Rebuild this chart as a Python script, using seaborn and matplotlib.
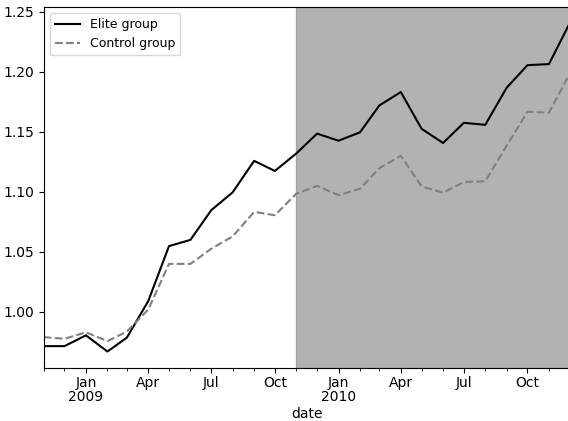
import matplotlib
matplotlib.use("Agg")
import matplotlib.pyplot as plt
import matplotlib.dates as mdates
import seaborn as sns
import pandas as pd

# monthly values, Nov 2008 .. Dec 2010
months = pd.date_range("2008-11-01", "2010-12-01", freq="MS")
elite = [0.9715, 0.9715, 0.9805, 0.967, 0.9785, 1.009, 1.0548, 1.060, 1.0847,
         1.0996, 1.1258, 1.1174, 1.132, 1.1485, 1.1426, 1.1496, 1.172, 1.1831,
         1.1525, 1.1407, 1.1575, 1.1558, 1.1868, 1.2055, 1.2064, 1.2405]
control = [0.979, 0.9776, 0.983, 0.9757, 0.9835, 1.002, 1.040, 1.040, 1.0526,
           1.0629, 1.0833, 1.0805, 1.0985, 1.1049, 1.0973, 1.1025, 1.1197, 1.130,
           1.1045, 1.0993, 1.1082, 1.1088, 1.1385, 1.1667, 1.1659, 1.1985]
shade_start = "2009-11-01"

df = pd.DataFrame({"date": months, "elite": elite, "control": control})

fig = plt.figure(figsize=(5.68, 4.21), dpi=100)
ax = fig.add_axes([0.077, 0.126, 0.926, 0.858])

sns.lineplot(data=df, x="date", y="elite", color="black", label="Elite group", ax=ax)
sns.lineplot(data=df, x="date", y="control", color="gray", linestyle="--",
             label="Control group", ax=ax)

ax.axvspan(pd.Timestamp(shade_start), df["date"].iloc[-1], color="gray", alpha=0.6)
ax.set_xlim(df["date"].iloc[0], df["date"].iloc[-1])

ax.xaxis.set_major_locator(mdates.MonthLocator(bymonth=[1, 4, 7, 10]))
ax.xaxis.set_minor_locator(mdates.MonthLocator())


def fmt(x, pos=None):
    d = mdates.num2date(x)
    if d.month == 1:
        return d.strftime("%b\n%Y")
    return d.strftime("%b")


ax.xaxis.set_major_formatter(plt.FuncFormatter(fmt))
ax.tick_params(axis="x", which="major", pad=2.5)
fig.canvas.draw()
for t in ax.get_xticklabels():
    t.set_linespacing(1.0)
ax.set_xlabel("date", labelpad=2)
ax.set_ylabel("")
ax.legend(loc="upper left", fontsize=9)

fig.savefig("out.png", dpi=100)
